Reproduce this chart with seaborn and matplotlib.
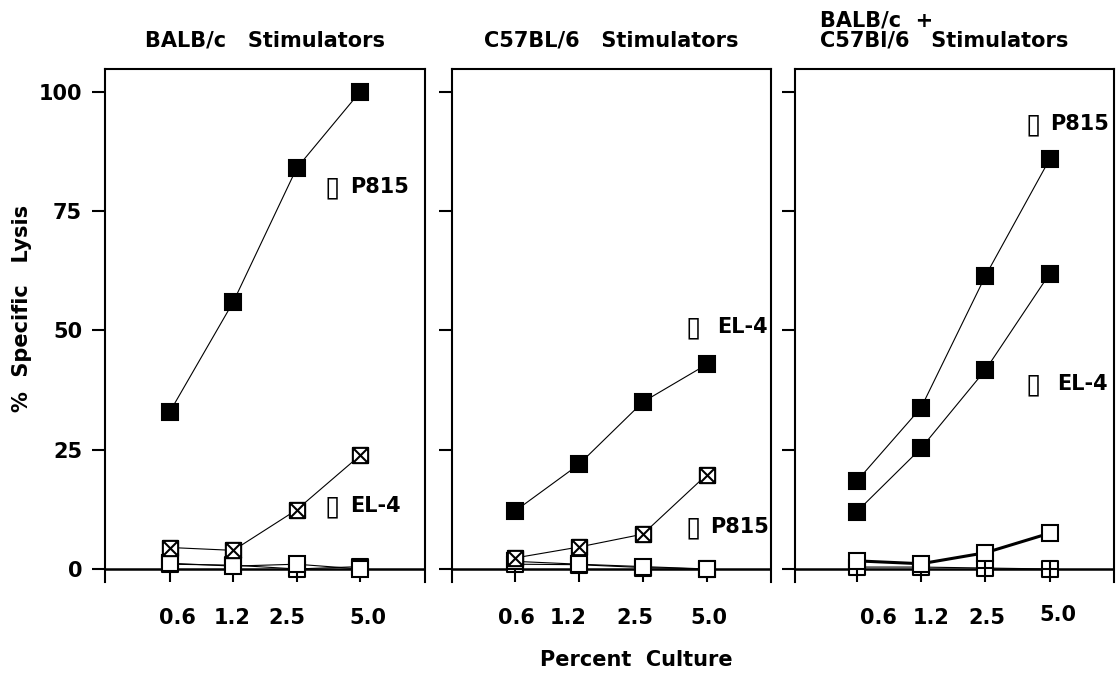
import numpy as np
import pandas as pd
import matplotlib
matplotlib.use("Agg")
import matplotlib.pyplot as plt
from matplotlib.path import Path
import seaborn as sns

# percent culture (x categories)
culture = ["0.6", "1.2", "2.5", "5.0"]
y_ticks = [0, 25, 50, 75, 100]

# BALB/c stimulators
balb_p815 = [33, 56, 84, 100]
balb_el4 = [4.5, 3.9, 12.4, 23.8]
balb_ctrl_open = [1.2, 0.6, 1.0, 0.0]
balb_ctrl_plus = [1.0, 0.8, 0.0, 0.5]

# C57BL/6 stimulators
b6_el4 = [12.1, 21.9, 35.0, 42.9]
b6_p815 = [2.3, 4.6, 7.3, 19.8]
b6_ctrl_open = [1.6, 1.0, 0.5, 0.0]
b6_ctrl_plus = [1.0, 0.9, 0.3, 0.0]

# BALB/c + C57Bl/6 stimulators
mix_p815 = [18.4, 33.8, 61.4, 85.9]
mix_el4 = [12.0, 25.3, 41.7, 61.9]
mix_ctrl_open = [1.7, 1.1, 3.4, 7.5]
mix_ctrl_plus = [0.4, 0.4, 0.2, 0.0]

sns.set_style("white")
plt.rcParams["font.family"] = ["DejaVu Sans"]
plt.rcParams["font.weight"] = "bold"
for k in ["text.color", "axes.labelcolor", "xtick.color", "ytick.color",
          "axes.edgecolor"]:
    plt.rcParams[k] = "black"
FS = 15

M, L, C = Path.MOVETO, Path.LINETO, Path.CLOSEPOLY
sq = [(-1, -1), (1, -1), (1, 1), (-1, 1), (-1, -1)]
sq_codes = [M, L, L, L, C]
cross_sq = Path(sq + [(-1, -1), (1, 1), (-1, 1), (1, -1)],
                sq_codes + [M, L, M, L])
plus_sq = Path(sq + [(0, -1), (0, 1), (-1, 0), (1, 0)],
               sq_codes + [M, L, M, L])

styles = {
    "filled": dict(marker="s", markerfacecolor="black", lw=0.8, zorder=4),
    "cross": dict(marker=cross_sq, markerfacecolor="white", lw=0.8, zorder=3),
    "open": dict(marker="s", markerfacecolor="white", lw=0.8, zorder=2.5),
    "open_thick": dict(marker="s", markerfacecolor="white", lw=2.2, zorder=2.5),
    "plus": dict(marker=plus_sq, markerfacecolor="white", lw=0.8, zorder=2.2),
}

# notes: (label, box x, label x, y)
panels = [
    dict(series=[(balb_ctrl_plus, "plus"), (balb_ctrl_open, "open"),
                 (balb_el4, "cross"), (balb_p815, "filled")],
         notes=[("P815", 2.56, 2.84, 80.0), ("EL-4", 2.56, 2.84, 13.1)],
         title=["BALB/c   Stimulators"],
         left=105, right=425, xlim=(-1.026, 4.026),
         lab_off=[0.11, -0.02, -0.16, 0.13]),
    dict(series=[(b6_ctrl_plus, "plus"), (b6_ctrl_open, "open"),
                 (b6_p815, "cross"), (b6_el4, "filled")],
         notes=[("EL-4", 2.78, 3.16, 50.7), ("P815", 2.78, 3.05, 8.8)],
         title=["C57BL/6   Stimulators"],
         left=452, right=771, xlim=(-0.98, 4.0),
         lab_off=[0.02, -0.17, -0.13, 0.03]),
    dict(series=[(mix_ctrl_plus, "plus"), (mix_ctrl_open, "open_thick"),
                 (mix_el4, "filled"), (mix_p815, "filled")],
         notes=[("P815", 2.74, 3.0, 93.2), ("EL-4", 2.74, 3.11, 38.7)],
         title=["BALB/c  +", "C57Bl/6   Stimulators"],
         left=795, right=1114, xlim=(-0.96, 4.0),
         lab_off=[0.33, 0.16, 0.02, 0.13]),
]

W, H = 1120, 679
top_px, bot_px = 69, 582
fig = plt.figure(figsize=(W / 100, H / 100), dpi=100)

for i, p in enumerate(panels):
    ax = fig.add_axes([p["left"] / W, (H - bot_px) / H,
                       (p["right"] - p["left"]) / W, (bot_px - top_px) / H])
    ax.axhline(0, color="black", lw=1.8, zorder=1)
    for vals, st in p["series"]:
        sns.lineplot(x=culture, y=vals, ax=ax, color="black",
                     markersize=11, markeredgecolor="black",
                     markeredgewidth=1.5, errorbar=None, **styles[st])
    ax.set_xlim(*p["xlim"])
    ax.set_ylim(-2.73, 104.8)
    ax.set_xlabel("")
    ax.set_ylabel("")
    ax.set_facecolor("white")
    for s in ["left", "right", "top"]:
        ax.spines[s].set_linewidth(1.5)
        ax.spines[s].set_color("black")
    ax.spines["bottom"].set_visible(False)

    ax.set_xticks(range(len(culture)))
    ax.set_xticklabels([])
    ax.tick_params(axis="x", direction="in", length=9.5, width=1.5,
                   bottom=True, top=False, color="black")
    ax.set_yticks(y_ticks)
    ax.tick_params(axis="y", direction="out", length=9.5, width=1.5,
                   left=True, right=False, color="black", pad=7,
                   labelsize=FS, labelcolor="black")
    if i == 0:
        ax.set_yticklabels([str(v) for v in y_ticks], fontweight="bold")
    else:
        ax.set_yticklabels([])

    # x tick labels, set slightly off the tick marks as in the original
    for j, lab in enumerate(culture):
        yy = -0.064 if (i == 2 and j == 3) else -0.0702
        ax.text(j + p["lab_off"][j], yy, lab, transform=ax.get_xaxis_transform(),
                ha="center", va="center", fontsize=FS, fontweight="bold")

    for txt, bx, tx, y in p["notes"]:
        ax.text(bx, y, "\u25af", ha="center", va="center", fontsize=20,
                fontweight="normal")
        ax.text(tx, y, txt, ha="left", va="center", fontsize=FS,
                fontweight="bold")

    if len(p["title"]) == 1:
        ax.text(0.5, 1.0429, p["title"][0], transform=ax.transAxes,
                ha="center", va="baseline", fontsize=FS, fontweight="bold")
    else:
        ax.text(0.078, 1.0819, p["title"][0], transform=ax.transAxes,
                ha="left", va="baseline", fontsize=FS, fontweight="bold")
        ax.text(0.078, 1.0429, p["title"][1], transform=ax.transAxes,
                ha="left", va="baseline", fontsize=FS, fontweight="bold")

fig.text(22 / W, 1 - 308 / H, "%  Specific   Lysis", rotation=90,
         ha="center", va="center", fontsize=FS, fontweight="bold")
fig.text(636 / W, 1 - 660 / H, "Percent  Culture", ha="center",
         va="center", fontsize=FS, fontweight="bold")

fig.savefig("out.png", dpi=100, facecolor="white")
